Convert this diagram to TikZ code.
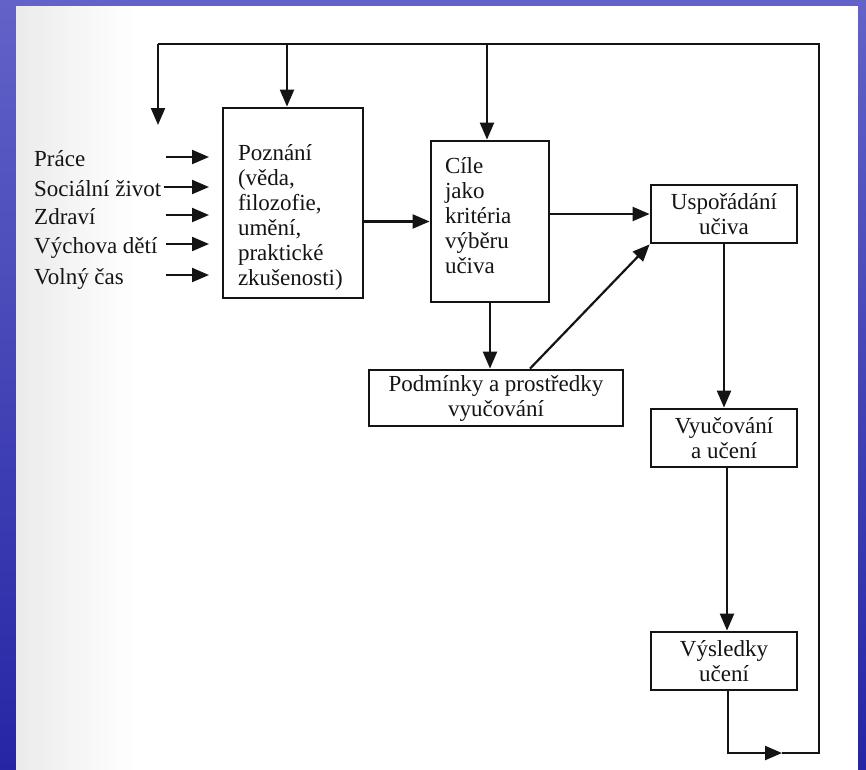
\documentclass[tikz,border=0pt]{standalone}
\usepackage{fontspec}
\setmainfont{Liberation Serif}
\usepackage{tikz}
\usetikzlibrary{arrows.meta,positioning}

\definecolor{slideblue}{RGB}{98,98,200}
\definecolor{slideblueD}{RGB}{38,38,165}
\definecolor{ink}{RGB}{20,20,20}

\begin{document}
\begin{tikzpicture}[x=1pt,y=-1pt,
    box/.style={draw=ink,line width=2.8pt,inner sep=0pt,text=ink,font=\fontsize{23}{25}\selectfont},
    vstup/.style={inner sep=0pt,anchor=west,text=ink,text height=22pt,text depth=4pt,font=\fontsize{23}{25}\selectfont},
    spoj/.style={draw=ink,line width=2.2pt},
    sipka/.style={spoj,-{Triangle[length=17pt,width=14pt]}}]
\useasboundingbox (0,0) rectangle (866,769);
% pozadi (snimek)
\shade[top color=slideblue,bottom color=slideblueD] (0,0) rectangle (866,769);
\fill[white] (16,6) rectangle (858,780);
\shade[left color=black!8,right color=white] (16,6) rectangle (135,780);

% bloky
\node[box,minimum width=140pt,minimum height=190pt,text width=110pt,align=left] (pozn) at (293,203)
    {\rule{0pt}{44pt}Poznání\\(věda,\\filozofie,\\umění,\\praktické\\zkušenosti)};
\node[box,minimum width=118pt,minimum height=161pt,text width=90pt,align=left] (cile) at (490,221.5)
    {Cíle\\jako\\kritéria\\výběru\\učiva\rule[-13pt]{0pt}{13pt}};
\node[box,minimum width=146pt,minimum height=58pt,align=center] (uspo) at (724,214) {Uspořádání\\učiva};
\node[box,minimum width=254pt,minimum height=56pt,align=center] (podm) at (496,398) {Podmínky a prostředky\\vyučování};
\node[box,minimum width=146pt,minimum height=58pt,align=center] (vyuc) at (724,438) {Vyučování\\a učení};
\node[box,minimum width=146pt,minimum height=58pt,align=center] (vysl) at (724,661) {Výsledky\\učení};

% vstupy vlevo
\node[vstup] (prace) at (34,157) {Práce};
\node[vstup] (soc) at (34,187) {Sociální život};
\node[vstup] (zdr) at (34,215) {Zdraví};
\node[vstup] (vych) at (34,244) {Výchova dětí};
\node[vstup] (vol) at (34,275) {Volný čas};
\coordinate (inS) at (166,0);
\coordinate (inE) at (209,0);
\foreach \v in {prace,zdr,vych,vol}
    \draw[sipka] (\v -| inS) -- (\v -| inE);
\draw[sipka] ([xshift=2pt]soc.east) -- (soc -| inE);

% spoje
\draw[sipka] (pozn.east |- cile) -- (cile.west);
\draw[sipka] (cile.east |- uspo) -- (uspo.west);
\draw[sipka] (cile.south) -- (cile.south |- podm.north);
\draw[sipka] ([xshift=34pt]podm.north) -- (uspo.south west);
\draw[sipka] (uspo.south) -- (uspo.south |- vyuc.north);
\draw[sipka] ([xshift=3pt]vyuc.south) -- ([xshift=3pt]vysl.north);

% zpetna vazba
\coordinate (fbM) at (782,753);
\coordinate (fbR) at (819,753);
\coordinate (fbT) at (819,44);
\coordinate (fbL) at (158,44);
\coordinate (fbE) at (158,125);
\draw[sipka] ([xshift=4pt]vysl.south) |- (fbM);
\draw[spoj] (fbM) -- (fbR) -- (fbT) -- (fbL);
\draw[sipka] (fbL) -- (fbE);
\draw[sipka] ([xshift=-6pt]pozn.north |- fbT) -- ([xshift=-6pt]pozn.north);
\draw[sipka] ([xshift=-3pt]cile.north |- fbT) -- ([xshift=-3pt]cile.north);
\end{tikzpicture}
\end{document}
